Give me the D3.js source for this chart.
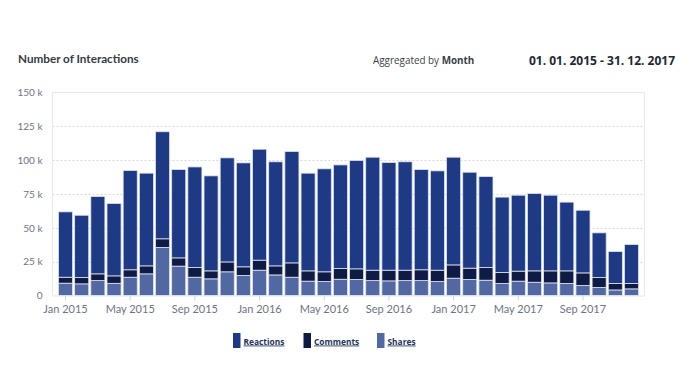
<!DOCTYPE html>
<html><head><meta charset="utf-8">
<script src="https://cdn.jsdelivr.net/npm/d3@7"></script>
<style>
body{margin:0;background:#fff;font-family:"Open Sans",Lato,sans-serif;}
svg{display:block}
</style></head><body>
<svg id="c" width="700" height="366"></svg>
<script>
const months = ["2015-01","2015-02","2015-03","2015-04","2015-05","2015-06","2015-07","2015-08","2015-09","2015-10","2015-11","2015-12",
"2016-01","2016-02","2016-03","2016-04","2016-05","2016-06","2016-07","2016-08","2016-09","2016-10","2016-11","2016-12",
"2017-01","2017-02","2017-03","2017-04","2017-05","2017-06","2017-07","2017-08","2017-09","2017-10","2017-11","2017-12"];
const reactions = [48300,46000,57200,53500,73400,68500,79100,65300,74300,70200,76900,76800,
82000,76900,82300,72200,76100,76500,80100,83500,79600,80100,74100,73400,
79600,70900,67200,55700,56100,57200,55900,50800,46300,33000,23600,28800];
const comments = [4400,4700,5000,5500,5500,5900,6400,6100,7200,5900,7300,6400,
7400,6700,10600,7600,7200,8000,7900,7700,7900,7700,8000,8400,
9800,8400,9400,8100,7400,8400,8900,9300,9300,7400,4800,4000];
const shares = [9100,8600,11000,9000,13500,16000,35500,21700,13500,12300,17500,14800,
18700,15200,13500,10600,10300,12000,11800,11000,10800,11000,11000,10300,
12800,11800,11300,8900,10600,9800,9300,8900,7400,5900,4100,4900];
const seriesNames = ["Reactions","Comments","Shares"];
const seriesColors = ["#1e3a84","#0e1b45","#5268a2"];
const yTicks = [0,25000,50000,75000,100000,125000,150000];
const xTickMonths = ["2015-01","2015-05","2015-09","2016-01","2016-05","2016-09","2017-01","2017-05","2017-09"];
const monthNames = ["Jan","Feb","Mar","Apr","May","Jun","Jul","Aug","Sep","Oct","Nov","Dec"];

const svg = d3.select("#c");
const L=52.5, R=644.5, T=92.5, B=295.5;

const x = d3.scaleBand().domain(months).range([L,R]).paddingInner(0.13).paddingOuter(0.37);
const y = d3.scaleLinear().domain([0,150000]).range([B,T]);

// grid
svg.append("g").selectAll("line").data(yTicks.filter(d=>d>0 && d<150000)).join("line")
  .attr("x1",L).attr("x2",R).attr("y1",d=>Math.round(y(d))+0.5).attr("y2",d=>Math.round(y(d))+0.5)
  .attr("stroke","#d6d9de").attr("stroke-dasharray","2,2");
// frame
svg.append("path").attr("d",`M${L},${B}V${T}H${R}V${B}`).attr("fill","none").attr("stroke","#e6e8eb");

// y labels
const ya = d3.axisLeft(y).tickValues(yTicks).tickSize(0).tickPadding(10)
  .tickFormat(d=> d===0 ? "0" : (d/1000)+" k");
const yg = svg.append("g").attr("transform",`translate(${L},0)`).call(ya);
yg.select(".domain").remove();
yg.selectAll("text").attr("fill","#6b7385").style("font-family","Lato,'Open Sans',sans-serif").style("font-size","10px");

// stacked data
const rows = months.map((m,i)=>({m, Reactions:reactions[i], Comments:comments[i], Shares:shares[i]}));
const stack = d3.stack().keys(["Shares","Comments","Reactions"])(rows);
const colorOf = k => seriesColors[seriesNames.indexOf(k)];
svg.append("g").selectAll("g").data(stack).join("g").attr("fill",d=>colorOf(d.key))
  .selectAll("rect").data(d=>d).join("rect")
  .attr("x",d=>x(d.data.m)).attr("width",x.bandwidth())
  .attr("y",d=>y(d[1])).attr("height",d=>y(d[0])-y(d[1]))
  .attr("stroke","#dfe4ee").attr("stroke-width",0.8);

// x axis
const xa = d3.axisBottom(x).tickValues(xTickMonths).tickSize(5).tickPadding(5)
  .tickFormat(m=>monthNames[+m.slice(5)-1]+" "+m.slice(0,4));
const xg = svg.append("g").attr("transform",`translate(0,${B})`).call(xa);
xg.select(".domain").attr("d",`M${L},0.5H${R}`).attr("stroke","#e3e5e8");
xg.selectAll(".tick line").attr("stroke","#d0d3d8");
xg.selectAll("text").attr("fill","#6b7385").style("font-family","Lato,'Open Sans',sans-serif").style("font-size","11px");

// title
svg.append("text").attr("x",18).attr("y",63).text("Number of Interactions")
  .attr("fill","#333a45").style("font-family","Lato,sans-serif").style("font-weight","bold").style("font-size","11.7px");
const ag = svg.append("text").attr("x",373).attr("y",64).attr("fill","#3a3f48")
  .style("font-family","'Open Sans',sans-serif").style("font-size","9.9px");
ag.append("tspan").text("Aggregated by ");
ag.append("tspan").text("Month").style("font-weight","bold");
svg.append("text").attr("x",675).attr("y",64.5).attr("text-anchor","end").text("01. 01. 2015 - 31. 12. 2017")
  .attr("fill","#222831").style("font-family","'Open Sans',sans-serif").style("font-weight","bold").style("font-size","12px");

// legend
const legX = [233,303.5,377];
const lg = svg.append("g").selectAll("g").data(seriesNames).join("g")
  .attr("transform",(d,i)=>`translate(${legX[i]},333)`);
lg.append("rect").attr("width",7.5).attr("height",15).attr("fill",(d,i)=>seriesColors[i]);
lg.append("text").attr("x",10.5).attr("y",11.5).text(d=>d)
  .attr("fill","#23335f").style("font-family","'Open Sans',sans-serif").style("font-weight","bold")
  .style("font-size","8.4px").style("text-decoration","underline");
</script></body></html>
